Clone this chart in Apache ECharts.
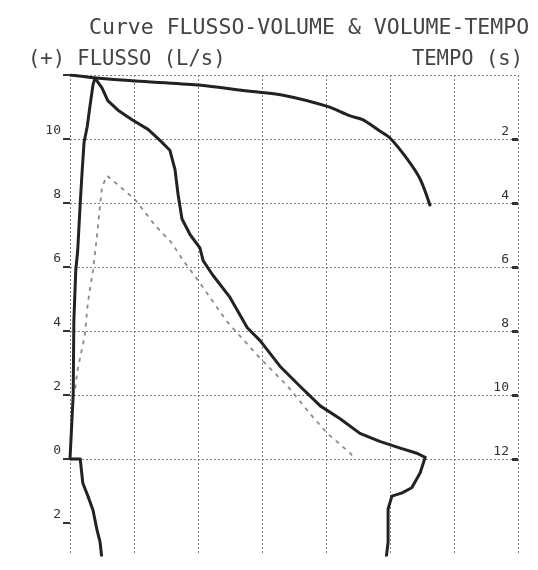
<!DOCTYPE html>
<html>
<head>
<meta charset="utf-8">
<script src="https://cdn.jsdelivr.net/npm/echarts@6/dist/echarts.min.js"></script>
<style>
  html, body { margin: 0; padding: 0; background: #fff; }
  #chart { width: 538px; height: 570px; }
</style>
</head>
<body>
<div id="chart"></div>
<script>
// Flow-volume loop: rise to peak flow, expiratory descent, start of inspiration (L, L/s)
const loopVolume = [0, 0.05, 0.06, 0.09, 0.12, 0.16, 0.19, 0.22, 0.27, 0.31, 0.36, 0.39,
  0.50, 0.59, 0.75, 0.97, 1.22, 1.41, 1.56, 1.64, 1.69, 1.75, 1.88, 2.03, 2.08, 2.23,
  2.50, 2.77, 2.97, 3.28, 3.59, 3.91, 4.22, 4.53, 4.84, 5.16, 5.42, 5.55, 5.58,
  5.47, 5.34, 5.19, 5.03, 4.97, 4.97, 4.94];
const loopFlow = [0, 2.0, 4.3, 5.9, 6.5, 8.0, 9.0, 9.9, 10.4, 11.0, 11.7, 11.9,
  11.6, 11.2, 10.9, 10.6, 10.3, 9.95, 9.65, 9.05, 8.25, 7.5, 7.0, 6.6, 6.2, 5.75,
  5.05, 4.1, 3.7, 2.9, 2.28, 1.66, 1.26, 0.8, 0.55, 0.34, 0.18, 0.05, 0,
  -0.44, -0.9, -1.06, -1.16, -1.56, -2.6, -3.1];

// Inspiratory branch near residual volume
const inspVolume = [0, 0.16, 0.20, 0.28, 0.36, 0.42, 0.47, 0.50];
const inspFlow = [0, 0, -0.75, -1.16, -1.6, -2.2, -2.6, -3.15];

// Predicted (reference) flow-volume curve
const predVolume = [0.08, 0.12, 0.23, 0.28, 0.36, 0.42, 0.50, 0.58, 0.73, 1.02, 1.33,
  1.59, 1.77, 2.03, 2.45, 2.97, 3.39, 3.80, 4.02, 4.38, 4.45];
const predFlow = [2.2, 2.8, 3.85, 4.9, 5.9, 6.95, 8.5, 8.85, 8.6, 8.1, 7.3,
  6.75, 6.2, 5.5, 4.3, 3.15, 2.3, 1.3, 0.8, 0.18, 0];

// Volume-time curve (L, s)
const vtVolume = [0, 0.55, 1.02, 2.0, 2.78, 3.33, 4.02, 4.38, 4.58, 4.84, 5.0, 5.27, 5.47, 5.63];
const vtTime = [0, 0.12, 0.19, 0.31, 0.5, 0.63, 0.98, 1.28, 1.4, 1.75, 1.97, 2.63, 3.25, 4.1];

// Axis texts
const titleText = 'Curve FLUSSO-VOLUME & VOLUME-TEMPO';
const flowAxisName = '(+) FLUSSO (L/s)';
const timeAxisName = 'TEMPO (s)';
const flowTickLabels = [10, 8, 6, 4, 2, 0, -2];
const timeTickLabels = [2, 4, 6, 8, 10, 12];

const zip = (a, b) => a.map((v, i) => [v, b[i]]);

const MONO = 'DejaVu Sans Mono';
const GRID_LINE = { show: true, lineStyle: { color: '#808080', width: 1, type: [2, 2] } };
const INK = '#222';
const TEXT = '#444';

const chart = echarts.init(document.getElementById('chart'), null, { renderer: 'canvas' });

chart.setOption({
  backgroundColor: '#ffffff',
  animation: false,
  graphic: [
    { type: 'text', x: 89, y: 28, style: { text: titleText, fontFamily: MONO, fontSize: 21.5, fill: TEXT, textAlign: 'left', textVerticalAlign: 'middle' } },
    { type: 'text', x: 28, y: 60, style: { text: flowAxisName, fontFamily: MONO, fontSize: 20.5, fill: TEXT, textAlign: 'left', textVerticalAlign: 'middle' } },
    { type: 'text', x: 523, y: 60, style: { text: timeAxisName, fontFamily: MONO, fontSize: 20.5, fill: TEXT, textAlign: 'right', textVerticalAlign: 'middle' } }
  ],
  grid: { left: 70, right: 20, top: 75, bottom: 15, containLabel: false },
  xAxis: {
    type: 'value', min: 0, max: 7, interval: 1,
    axisLine: { show: false }, axisTick: { show: false }, axisLabel: { show: false },
    splitLine: GRID_LINE
  },
  yAxis: [
    { // flow (L/s): labels only
      type: 'value', position: 'left', min: -3, max: 12, interval: 1,
      axisLine: { show: false }, axisTick: { show: false }, splitLine: { show: false },
      axisLabel: {
        margin: 9, fontFamily: MONO, fontSize: 13, color: '#333', verticalAlign: 'bottom',
        padding: [0, 0, 2, 0],
        formatter: v => flowTickLabels.includes(v) ? String(Math.abs(v)) : ''
      }
    },
    { // time (s), increasing downwards
      type: 'value', position: 'right', inverse: true, min: 0, max: 15, interval: 1,
      axisLine: { show: false }, splitLine: { show: false },
      axisTick: { show: false },
      axisLabel: {
        inside: true, margin: 9, fontFamily: MONO, fontSize: 13, color: '#333', verticalAlign: 'bottom',
        padding: [0, 0, 1, 0],
        formatter: v => timeTickLabels.includes(v) ? String(v) : ''
      }
    },
    { // horizontal grid every 2 L/s (and every 2 s)
      type: 'value', position: 'left', inverse: true, min: 0, max: 15, interval: 2,
      axisLine: { show: false }, axisLabel: { show: false },
      axisTick: { show: true, inside: false, length: 7, customValues: [0, 2, 4, 6, 8, 10, 12, 14], lineStyle: { color: '#333', width: 2 } },
      splitLine: Object.assign({ showMaxLine: false }, GRID_LINE)
    },
    { // right-edge tick marks for the time scale
      type: 'value', position: 'right', inverse: true, min: 0, max: 15, interval: 2,
      axisLine: { show: false }, axisLabel: { show: false }, splitLine: { show: false },
      axisTick: { show: true, inside: true, length: 6, customValues: timeTickLabels, lineStyle: { color: '#333', width: 3 } }
    }
  ],
  series: [
    {
      name: 'predetto', type: 'line', yAxisIndex: 0, data: zip(predVolume, predFlow),
      showSymbol: false, smooth: false, clip: true,
      lineStyle: { color: '#8a8a8a', width: 1.8, type: [4, 5] }, z: 3
    },
    {
      name: 'flusso-volume', type: 'line', yAxisIndex: 0, data: zip(loopVolume, loopFlow),
      showSymbol: false, smooth: false, clip: true,
      lineStyle: { color: INK, width: 3, join: 'round' }, z: 4
    },
    {
      name: 'inspirazione', type: 'line', yAxisIndex: 0, data: zip(inspVolume, inspFlow),
      showSymbol: false, smooth: false, clip: true,
      lineStyle: { color: INK, width: 3, join: 'round' }, z: 4
    },
    {
      name: 'volume-tempo', type: 'line', yAxisIndex: 1, data: zip(vtVolume, vtTime),
      showSymbol: false, smooth: 0.3, clip: true,
      lineStyle: { color: INK, width: 3, join: 'round' }, z: 4
    }
  ]
});
</script>
</body>
</html>
